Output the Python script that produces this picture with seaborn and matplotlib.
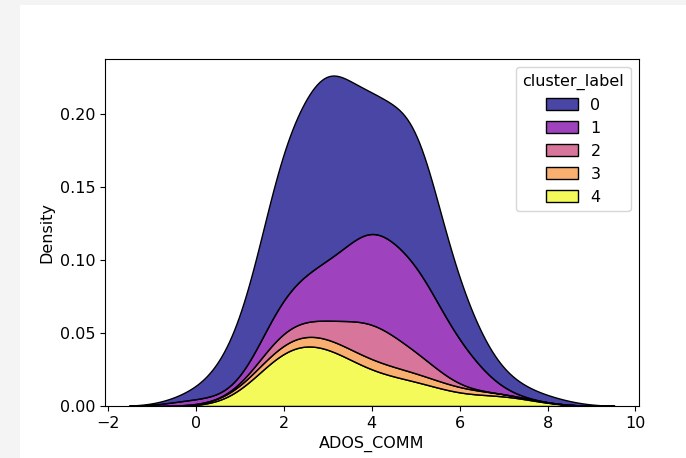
import numpy as np
import pandas as pd
import matplotlib
matplotlib.use("Agg")
import matplotlib.pyplot as plt
import seaborn as sns
from matplotlib.patches import Rectangle

# ADOS_COMM score values and how many subjects in each cluster got each score
scores = [0, 1, 2, 3, 4, 5, 6, 7, 8]
counts_c0 = [1, 7, 22, 29, 17, 22, 7, 2, 1]
counts_c1 = [1, 0, 5, 8, 14, 13, 6, 0, 0]
counts_c2 = [0, 0, 2, 2, 6, 3, 0, 0, 0]
counts_c3 = [0, 0, 2, 1, 2, 1, 1, 0, 0]
counts_c4 = [0, 0, 10, 9, 4, 4, 1, 2, 0]
cluster_labels = [0, 1, 2, 3, 4]

counts = [counts_c0, counts_c1, counts_c2, counts_c3, counts_c4]
frames = []
for label, cnt in zip(cluster_labels, counts):
    vals = np.repeat(scores, cnt).astype(float)
    frames.append(pd.DataFrame({"ADOS_COMM": vals, "cluster_label": label}))
df = pd.concat(frames, ignore_index=True)

plt.rcParams["font.size"] = 11.5
plt.rcParams["font.family"] = ["DejaVu Sans"]

W, H = 686, 458
fig = plt.figure(figsize=(W / 100, H / 100), dpi=100, facecolor="#f4f4f4")
fig.patches.append(Rectangle((20 / W, 0), 1 - 20 / W, 1 - 5 / H,
                             transform=fig.transFigure, facecolor="white",
                             edgecolor="none", zorder=-1))
ax = fig.add_axes([105 / W, 1 - 406 / H, (638.5 - 105) / W, (406 - 59) / H])

sns.kdeplot(data=df, x="ADOS_COMM", hue="cluster_label", multiple="stack",
            palette="plasma", ax=ax)

fig.savefig("out.png", dpi=100, facecolor=fig.get_facecolor())
